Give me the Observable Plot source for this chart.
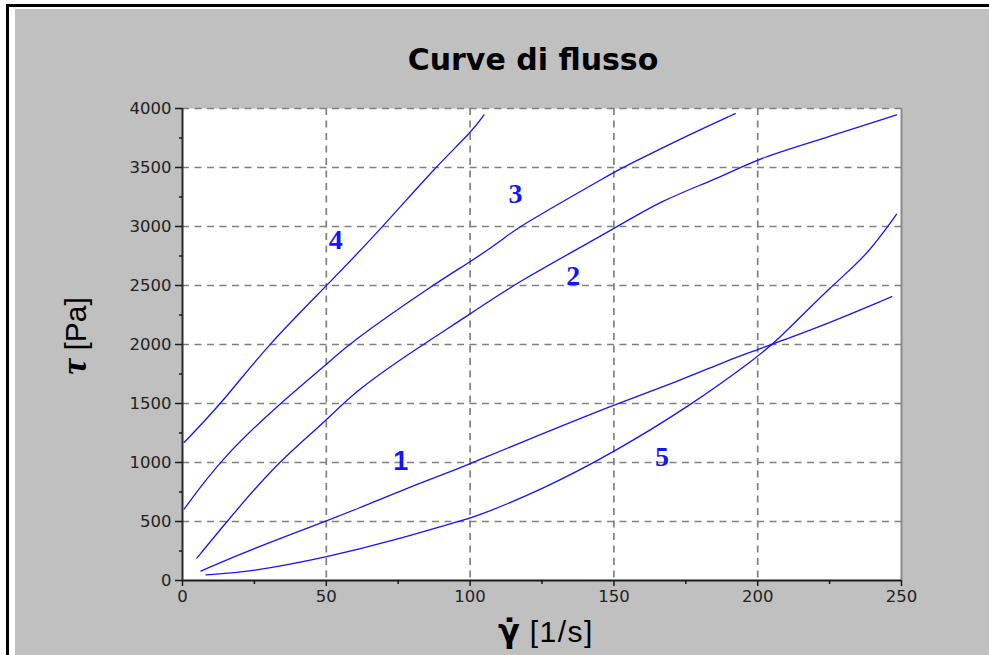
<!DOCTYPE html>
<html>
<head>
<meta charset="utf-8">
<script src="https://cdn.jsdelivr.net/npm/d3@7"></script>
<script src="https://cdn.jsdelivr.net/npm/@observablehq/plot@0.6"></script>
<style>
  html, body { margin: 0; padding: 0; background: #ffffff; }
  #page { position: relative; width: 989px; height: 655px; overflow: hidden; background: #ffffff; }
  #borderTop { position: absolute; left: 6px; top: 4px; width: 983px; height: 3px; background: #000; }
  #borderLeft { position: absolute; left: 6px; top: 4px; width: 3px; height: 651px; background: #000; }
  #panel { position: absolute; left: 15px; top: 9px; right: 0; bottom: 0; background: #c0c0c0; }
  #chart { position: absolute; left: 0; top: 0; }
</style>
</head>
<body>
<div id="page">
  <div id="borderTop"></div>
  <div id="borderLeft"></div>
  <div id="panel"></div>
  <div id="chart"></div>
</div>
<script>
// ---- Data (shear rate [1/s], shear stress [Pa]) ----
const curve1 = [[6.4,80],[20.3,226],[36.5,381],[50.4,508],[60.8,607],[75.9,762],[95.6,945],[100.2,994],[122.2,1214],[150,1490],[173,1694],[189.3,1863],[200.6,1961],[206.7,2018],[224,2173],[246.6,2405]];
const curve2 = [[5,190],[15.7,508],[26.1,804],[35.3,1044],[50.4,1365],[60.2,1608],[81.1,1961],[100.5,2265],[115.2,2512],[149.9,2977],[166.1,3218],[187,3415],[200.9,3585],[224,3754],[248.3,3946]];
const curve3 = [[0.6,607],[13.4,1030],[33.6,1496],[50.4,1835],[56.8,1990],[87.4,2512],[100.8,2710],[112.3,2907],[116.4,2991],[149.9,3458],[153.4,3505],[177.7,3796],[192.2,3957]];
const curve4 = [[0.6,1171],[13.4,1496],[29.6,1996],[50.4,2504],[70,3006],[88,3505],[100.8,3810],[104.8,3946]];
const curve5 = [[8.2,48],[23.2,71],[50.4,198],[73.5,339],[96.7,508],[100.2,522],[125.6,776],[150,1087],[176.6,1482],[199.7,1891],[206.1,2018],[226.3,2512],[237.9,2752],[248.3,3104]];

const seriesNames = ["1", "2", "3", "4", "5"];
const labelX = [75.9, 135.9, 115.8, 53.3, 166.7];
const labelY = [1008, 2583, 3279, 2882, 1050];

const xTicks = [0, 50, 100, 150, 200, 250];
const xMinorTicks = [25, 75, 125, 175, 225];
const yTicks = [0, 500, 1000, 1500, 2000, 2500, 3000, 3500, 4000];
const yMinorTicks = [250, 750, 1250, 1750, 2250, 2750, 3250, 3750];
const xGrid = [50, 100, 150, 200];
const yGrid = [500, 1000, 1500, 2000, 2500, 3000, 3500, 4000];

const titleText = "Curve di flusso";

// ---- Build tables ----
const curves = [curve1, curve2, curve3, curve4, curve5];
const rows = curves.flatMap((c, i) => c.map(([x, y]) => ({series: seriesNames[i], x, y})));
const labels = seriesNames.map((s, i) => ({text: s, x: labelX[i], y: labelY[i]}));

const blue = "#1414ff";
const gridColor = "#808080";

const plot = Plot.plot({
  width: 989,
  height: 655,
  marginLeft: 182,
  marginRight: 88,
  marginTop: 108,
  marginBottom: 75,
  style: {background: "transparent", fontFamily: "DejaVu Sans", fontSize: "16px", overflow: "visible"},
  x: {domain: [0, 250], label: null},
  y: {domain: [0, 4000], label: null},
  marks: [
    Plot.frame({fill: "white", stroke: "none"}),
    Plot.gridX(xGrid, {stroke: gridColor, strokeOpacity: 1, strokeWidth: 1.7, strokeDasharray: "7,5.5"}),
    Plot.gridY(yGrid, {stroke: gridColor, strokeOpacity: 1, strokeWidth: 1.7, strokeDasharray: "7,5.5"}),
    Plot.ruleX([250], {stroke: "#8a8a8a", strokeWidth: 2}),
    Plot.line(rows, {x: "x", y: "y", z: "series", stroke: blue, strokeWidth: 1.3, curve: "basis"}),
    Plot.text(labels.filter(d => d.text === "1"), {x: "x", y: "y", text: "text", fill: blue, fontSize: 27, fontWeight: "bold", fontFamily: "Liberation Sans"}),
    Plot.text(labels.filter(d => d.text !== "1"), {x: "x", y: "y", text: "text", fill: blue, fontSize: 28, fontWeight: "bold", fontFamily: "Liberation Serif"}),
    Plot.ruleY([0], {stroke: "#1a1a1a", strokeWidth: 2}),
    Plot.ruleX([0], {stroke: "#2a2a2a", strokeWidth: 2}),
    Plot.axisX(xTicks, {tickSize: 6, tickPadding: 4, stroke: "#1a1a1a", strokeWidth: 1.5, fill: "#222", fontSize: 16.5, tickFormat: d => String(d)}),
    Plot.axisX(xMinorTicks, {tickSize: 4, stroke: "#1a1a1a", strokeWidth: 1.5, tickFormat: () => ""}),
    Plot.axisY(yTicks, {tickSize: 7, tickPadding: 4, stroke: "#1a1a1a", strokeWidth: 1.5, fill: "#222", fontSize: 16.5, tickFormat: d => String(d)}),
    Plot.axisY(yMinorTicks, {tickSize: 3, stroke: "#1a1a1a", strokeWidth: 1.5, tickFormat: () => ""})
  ]
});

const svg = d3.select(plot);
// Title
svg.append("text")
  .attr("x", 533).attr("y", 70)
  .attr("text-anchor", "middle")
  .attr("font-family", "DejaVu Sans")
  .attr("font-weight", "bold")
  .attr("font-size", 30)
  .attr("fill", "#000")
  .text(titleText);
// Y axis label
const yl = svg.append("text")
  .attr("transform", "translate(86,336) rotate(-90)")
  .attr("text-anchor", "middle")
  .attr("fill", "#000");
yl.append("tspan").attr("font-family", "Liberation Serif").attr("font-style", "italic").attr("font-weight", "bold").attr("font-size", 36).text("τ");
yl.append("tspan").attr("font-family", "Liberation Sans").attr("font-size", 30).text(" [Pa]");
// X axis label
const xl = svg.append("text")
  .attr("x", 546).attr("y", 642)
  .attr("text-anchor", "middle")
  .attr("fill", "#000");
xl.append("tspan").attr("font-family", "DejaVu Sans").attr("font-weight", "bold").attr("font-size", 32).text("γ\u0307");
xl.append("tspan").attr("font-family", "Liberation Sans").attr("font-size", 30).attr("letter-spacing", 1.5).text(" [1/s]");

document.getElementById("chart").appendChild(plot);
</script>
</body>
</html>
